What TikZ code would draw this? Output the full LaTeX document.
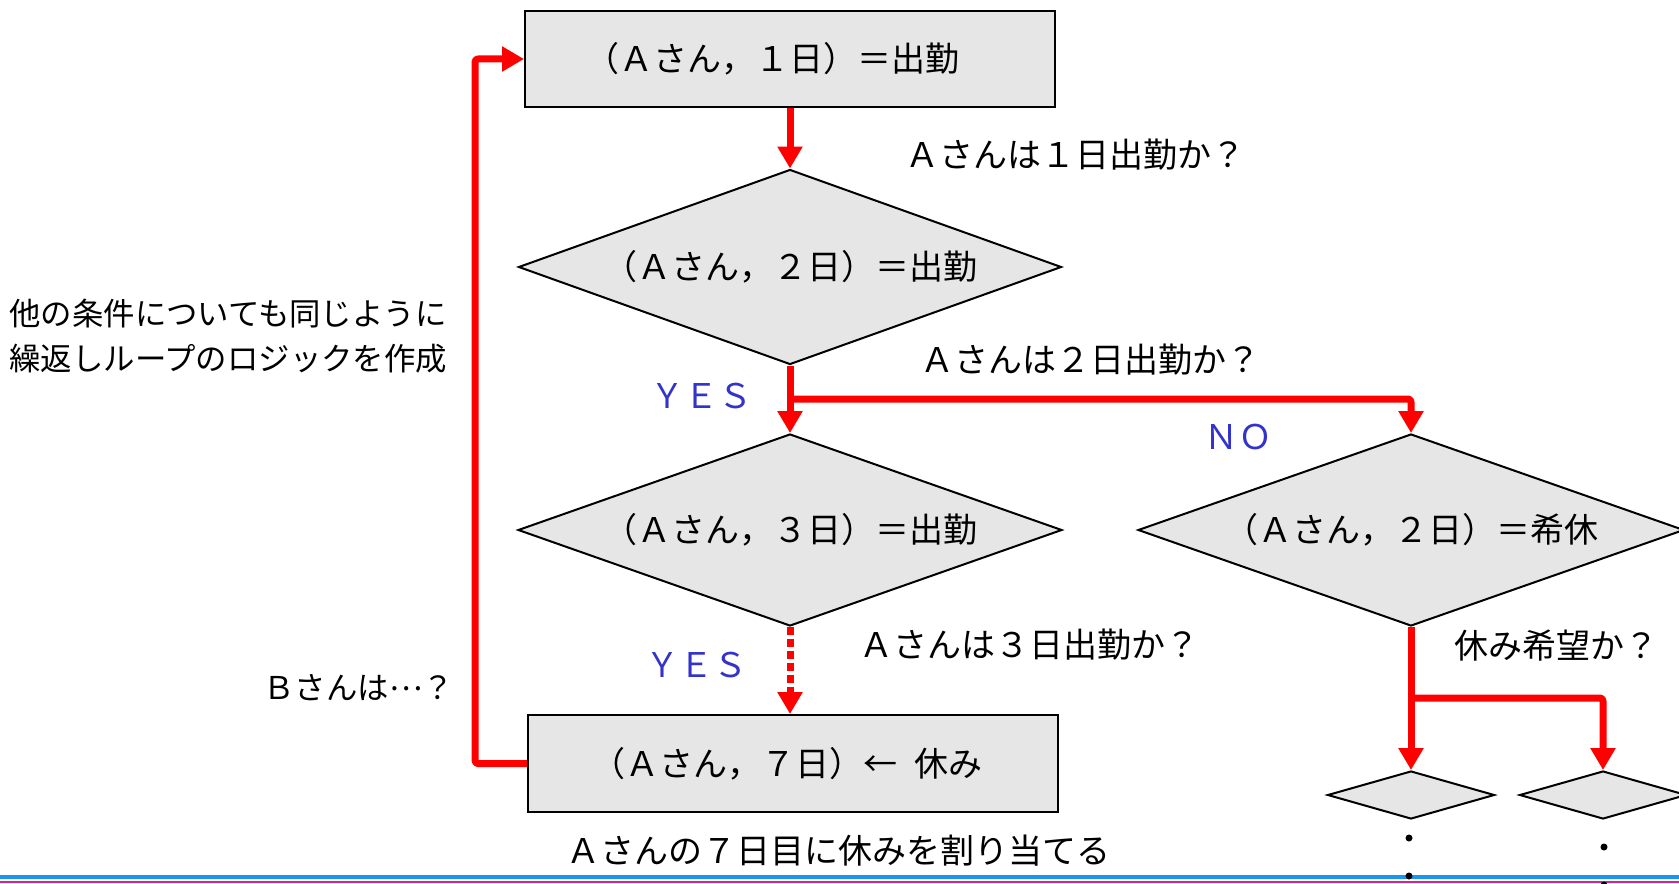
\documentclass[tikz,border=0pt]{standalone}
\usepackage{fontspec}
\setmainfont{Noto Sans CJK JP}
\usetikzlibrary{shapes.geometric,arrows.meta}
\definecolor{flowred}{RGB}{255,0,0}
\definecolor{boxfill}{RGB}{230,230,230}
\definecolor{answerblue}{RGB}{51,51,204}
\definecolor{lineblue}{RGB}{25,150,240}
\definecolor{linemag}{RGB}{225,30,140}
\tikzset{
  flowbox/.style={draw=black, line width=1pt, fill=boxfill, rectangle, inner sep=0pt,
    font=\fontsize{17pt}{20pt}\selectfont},
  decision/.style={draw=black, line width=1pt, fill=boxfill, diamond, aspect=2.8, inner sep=0pt,
    font=\fontsize{17pt}{20pt}\selectfont},
  smalldec/.style={draw=black, line width=1pt, fill=boxfill, diamond, aspect=3.5, inner sep=0pt,
    minimum width=83.5pt, minimum height=24pt},
  flow/.style={draw=flowred, line width=3.5pt, -{Triangle[width=12pt,length=11pt]},
    line join=round, rounded corners=1.5pt},
  lbl/.style={inner sep=0pt, anchor=west, font=\fontsize{17pt}{20pt}\selectfont},
  sidelbl/.style={inner sep=0pt, anchor=west, font=\fontsize{15.7pt}{22.5pt}\selectfont},
  answer/.style={inner sep=0pt, anchor=west, text=answerblue, font=\fontsize{17pt}{20pt}\selectfont},
  dotmark/.style={fill=black, circle, inner sep=0pt, minimum size=3.5pt}
}
\begin{document}
\begin{tikzpicture}[x=0.5pt,y=-0.5pt]
\useasboundingbox (0,0) rectangle (1679,883);
% bottom rules
\fill[lineblue] (0,874.5) rectangle (1679,878.5);
\fill[linemag] (0,880.5) rectangle (1679,883);

% shapes
\node[flowbox, minimum width=265pt, minimum height=48pt] (box1) at (790,59) {（Ａさん，１日）＝出勤\hspace*{18pt}};
\node[decision, minimum width=271.5pt, minimum height=97.5pt] (d1) at (790,267) {（Ａさん，２日）＝出勤};
\node[decision, minimum width=272pt, minimum height=96pt] (d2) at (790,530) {（Ａさん，３日）＝出勤};
\node[decision, minimum width=273pt, minimum height=96pt] (d3) at (1411,530) {（Ａさん，２日）＝希休};
\node[flowbox, minimum width=265pt, minimum height=48.5pt] (box7) at (793,763.5) {（Ａさん，７日）←\hspace{0.5em}休み\hspace*{6pt}};
\node[smalldec] (s1) at (1411,795) {};
\node[smalldec] (s2) at (1603,795) {};

% connectors
\draw[flow] (box1.south) -- (d1.north);
\draw[flow] (d1.south) -- (d2.north);
\coordinate (b1) at (790,399);
\draw[flow] (b1) -| (d3.north);
\draw[flow, dash pattern=on 4pt off 2pt] (d2.south) -- (d2.south |- box7.north);
\draw[flow] (box7.west) -- ++(-52,0) |- (box1.west);
\draw[flow] (d3.south) -- (s1.north);
\coordinate (b2) at (1411,698);
\draw[flow] (b2) -| (s2.north);

% labels
\node[lbl] (q1) at (905,155) {Ａさんは１日出勤か？};
\node[lbl] (q2) at (920,360) {Ａさんは２日出勤か？};
\node[lbl] (q3) at (859,645) {Ａさんは３日出勤か？};
\node[lbl] (q4) at (1454,646) {休み希望か？};
\node[lbl] (q5) at (566,851) {Ａさんの７日目に休みを割り当てる};
\node[answer] (yes1) at (650,396) {ＹＥＳ};
\node[answer] (yes2) at (645,665) {ＹＥＳ};
\node[answer] (no1) at (1204,437) {ＮＯ};
\node[sidelbl, align=left] (note) at (9,336) {他の条件についても同じように\\繰返しループのロジックを作成};
\node[sidelbl] (bq) at (263,688) {Ｂさんは\raisebox{0.3em}{…}？};

% continuation dots
\node[dotmark] (p1) at (1409,838) {};
\node[dotmark] (p2) at (1409,876) {};
\node[dotmark] (p3) at (1604,847) {};
\node[dotmark] (p4) at (1604,885) {};
\end{tikzpicture}
\end{document}
